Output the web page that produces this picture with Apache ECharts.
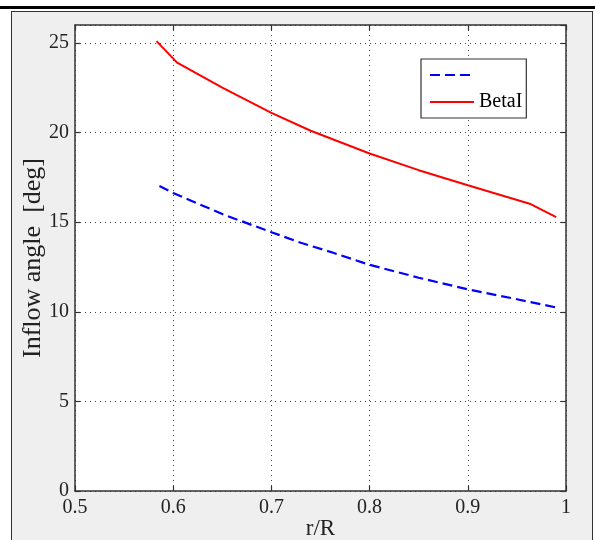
<!DOCTYPE html>
<html>
<head>
<meta charset="utf-8">
<script src="https://cdn.jsdelivr.net/npm/echarts@6/dist/echarts.min.js"></script>
<style>
html,body{margin:0;padding:0;background:#fff;}
#wrap{position:relative;width:595px;height:540px;overflow:hidden;}
#topline{position:absolute;left:0;top:6px;width:595px;height:3px;background:#000;}
#frame{position:absolute;left:11px;top:11px;width:580px;height:540px;background:#efefef;border:1.5px solid #333;}
#chart{position:absolute;left:0;top:0;width:595px;height:540px;}
</style>
</head>
<body>
<div id="wrap">
  <div id="topline"></div>
  <div id="frame"></div>
  <div id="chart"></div>
</div>
<script>
// r/R positions and inflow angles
const rBlue = [0.586, 0.6, 0.65, 0.7, 0.73, 0.763, 0.8, 0.85, 0.9, 0.95, 0.99];
const blueVals = [17.02, 16.63, 15.45, 14.44, 13.85, 13.29, 12.62, 11.9, 11.25, 10.7, 10.24];
const rRed = [0.583, 0.604, 0.65, 0.7, 0.74, 0.8, 0.85, 0.9, 0.963, 0.99];
const redVals = [25.1, 23.9, 22.5, 21.1, 20.1, 18.83, 17.9, 17.06, 16.03, 15.28];
const seriesNames = [' ', 'BetaI'];

const FONT = '"Liberation Serif","DejaVu Serif",serif';
const pairs = (xs, ys) => xs.map((x, i) => [x, ys[i]]);

const axisCommon = {
  axisLine:{show:true,onZero:false,lineStyle:{color:'#333',width:1.5}},
  axisTick:{show:true,inside:true,length:5,lineStyle:{color:'#333',width:1.2}},
};

const c = echarts.init(document.getElementById('chart'));
c.setOption({
  backgroundColor:'transparent',
  animation:false,
  grid:{left:75,top:25,right:29,bottom:49,outerBoundsMode:'none',containLabel:false,
    show:true,backgroundColor:'#fff',borderWidth:0},
  legend:{
    data:seriesNames, orient:'vertical', left:421, top:59,
    padding:[6,4,6,8], itemWidth:44, itemHeight:14, itemGap:7,
    itemStyle:{opacity:0},
    backgroundColor:'#fff', borderColor:'#333', borderWidth:1.2,
    textStyle:{fontFamily:FONT,fontSize:20,color:'#000'}
  },
  xAxis:[
    Object.assign({type:'value',min:0.5,max:1,interval:0.1,position:'bottom',
      name:'r/R',nameLocation:'middle',nameGap:26,nameMoveOverlap:false,
      nameTextStyle:{fontFamily:FONT,fontSize:23,color:'#222'},
      axisLabel:{fontFamily:FONT,fontSize:20,color:'#222',margin:7,formatter:v=>+v.toFixed(1)+''},
      splitLine:{show:true,lineStyle:{type:[1,4],color:'#444',width:1}}}, axisCommon),
    Object.assign({type:'value',min:0.5,max:1,interval:0.1,position:'top',
      axisLabel:{show:false},splitLine:{show:false}}, axisCommon)
  ],
  yAxis:[
    Object.assign({type:'value',min:0,max:26,interval:5,position:'left',
      name:'Inflow angle  [deg]',nameLocation:'middle',nameGap:29,nameMoveOverlap:false,
      nameTextStyle:{fontFamily:FONT,fontSize:26,color:'#222'},
      axisLabel:{fontFamily:FONT,fontSize:20,color:'#222',margin:6,showMaxLabel:false,
        formatter:v=>(v%5===0?v+'':'')},
      splitLine:{show:true,lineStyle:{type:[1,4],color:'#444',width:1}}}, axisCommon),
    Object.assign({type:'value',min:0,max:26,interval:5,position:'right',
      axisLabel:{show:false},splitLine:{show:false}}, axisCommon)
  ],
  series:[
    {name:seriesNames[0],type:'line',symbol:'none',data:pairs(rBlue,blueVals),
      lineStyle:{color:'#0000ff',width:2.2,type:[10,5]},itemStyle:{color:'#0000ff'}},
    {name:seriesNames[1],type:'line',symbol:'none',data:pairs(rRed,redVals),
      lineStyle:{color:'#ff0000',width:2},itemStyle:{color:'#ff0000'}}
  ]
});
</script>
</body>
</html>
